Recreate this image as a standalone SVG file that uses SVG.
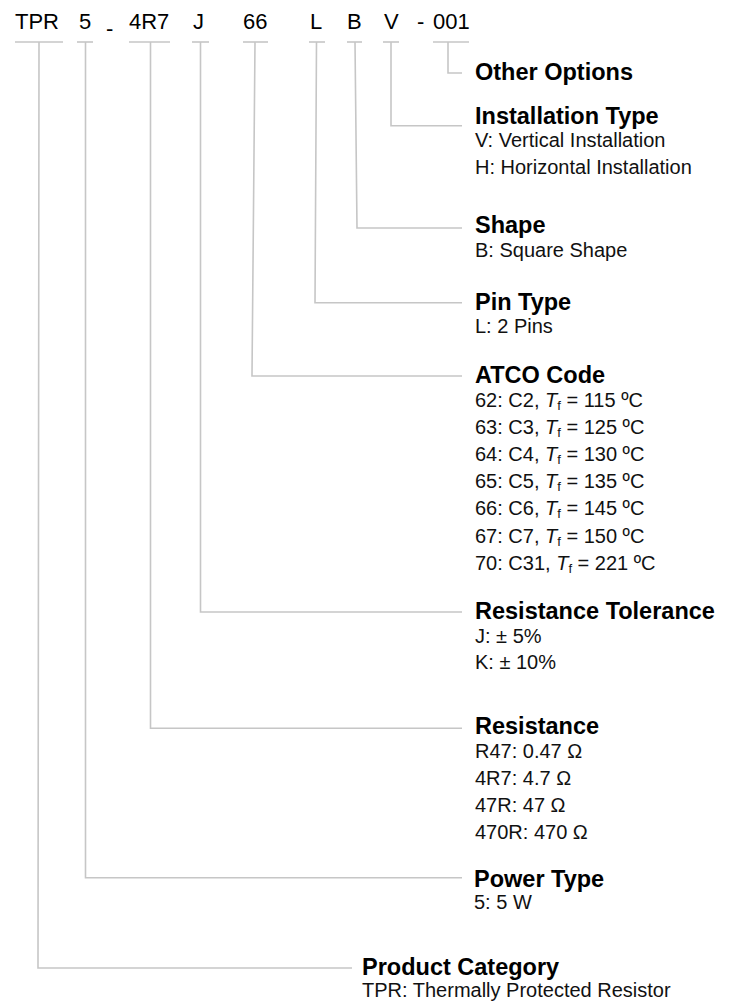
<svg xmlns="http://www.w3.org/2000/svg" width="739" height="1002" viewBox="0 0 739 1002">
<style>
.code{font-family:"Liberation Sans",Arial,sans-serif;font-size:22px;fill:#000}
.title{font-family:"Liberation Sans",Arial,sans-serif;font-size:23.5px;font-weight:bold;fill:#000}
.sub{font-family:"Liberation Sans",Arial,sans-serif;font-size:20px;fill:#111}
.it{font-style:italic}
.sb{font-size:13px}
.conn{fill:none;stroke:#c6c6c6;stroke-width:1.6}
</style>
<rect width="739" height="1002" fill="#fff"/>
<g id="connectors">
<polyline class="conn" points="15,42 63,42"/><polyline class="conn" points="39,42 38,968 352,968"/>
<polyline class="conn" points="77,42 93,42"/><polyline class="conn" points="85.5,42 85.5,877.7 462,877.7"/>
<polyline class="conn" points="129,42 170,42"/><polyline class="conn" points="150.5,42 150.5,728.3 462,728.3"/>
<polyline class="conn" points="192,42 209,42"/><polyline class="conn" points="200.5,42 200.5,612 462,612"/>
<polyline class="conn" points="243,42 268,42"/><polyline class="conn" points="255,42 252,376 462,376"/>
<polyline class="conn" points="309,42 325,42"/><polyline class="conn" points="316.5,42 315,302.7 462,302.7"/>
<polyline class="conn" points="347,42 362,42"/><polyline class="conn" points="355,42 357,228 462,228"/>
<polyline class="conn" points="383,42 399,42"/><polyline class="conn" points="391,42 391,125.7 462,125.7"/>
<polyline class="conn" points="433,42 469,42"/><polyline class="conn" points="448,42 448,73 462,73"/>
</g>
<g id="code">
<text class="code" x="15" y="28.5">TPR</text>
<text class="code" x="79" y="28.5">5</text>
<text class="code" x="106" y="36">-</text>
<text class="code" x="129" y="28.5">4R7</text>
<text class="code" x="193" y="28.5">J</text>
<text class="code" x="243" y="28.5">66</text>
<text class="code" x="310" y="28.5">L</text>
<text class="code" x="347" y="28.5">B</text>
<text class="code" x="384" y="28.5">V</text>
<text class="code" x="417" y="28.5">-</text>
<text class="code" x="433" y="28.5">001</text>
</g>
<g id="other-options">
<text class="title" x="475" y="80">Other Options</text>
</g>
<g id="installation-type">
<text class="title" x="475" y="123.5">Installation Type</text>
<text class="sub" x="475" y="146.7">V: Vertical Installation</text>
<text class="sub" x="475" y="173.5">H: Horizontal Installation</text>
</g>
<g id="shape">
<text class="title" x="475" y="233">Shape</text>
<text class="sub" x="475" y="256.5">B: Square Shape</text>
</g>
<g id="pin-type">
<text class="title" x="475" y="310">Pin Type</text>
<text class="sub" x="475" y="333">L: 2 Pins</text>
</g>
<g id="atco-code">
<text class="title" x="475" y="383.3">ATCO Code</text>
<text class="sub" x="475" y="406.7">62: C2, <tspan class="it">T</tspan><tspan class="sb" dy="3">f</tspan><tspan dy="-3"> = 115 ºC</tspan></text>
<text class="sub" x="475" y="433.8">63: C3, <tspan class="it">T</tspan><tspan class="sb" dy="3">f</tspan><tspan dy="-3"> = 125 ºC</tspan></text>
<text class="sub" x="475" y="460.9">64: C4, <tspan class="it">T</tspan><tspan class="sb" dy="3">f</tspan><tspan dy="-3"> = 130 ºC</tspan></text>
<text class="sub" x="475" y="488">65: C5, <tspan class="it">T</tspan><tspan class="sb" dy="3">f</tspan><tspan dy="-3"> = 135 ºC</tspan></text>
<text class="sub" x="475" y="515.1">66: C6, <tspan class="it">T</tspan><tspan class="sb" dy="3">f</tspan><tspan dy="-3"> = 145 ºC</tspan></text>
<text class="sub" x="475" y="542.5">67: C7, <tspan class="it">T</tspan><tspan class="sb" dy="3">f</tspan><tspan dy="-3"> = 150 ºC</tspan></text>
<text class="sub" x="475" y="570">70: C31, <tspan class="it">T</tspan><tspan class="sb" dy="3">f</tspan><tspan dy="-3"> = 221 ºC</tspan></text>
</g>
<g id="resistance-tolerance">
<text class="title" x="475" y="619.3">Resistance Tolerance</text>
<text class="sub" x="475" y="642.7">J: ± 5%</text>
<text class="sub" x="475" y="669.3">K: ± 10%</text>
</g>
<g id="resistance">
<text class="title" x="475" y="734.3">Resistance</text>
<text class="sub" x="475" y="757.7">R47: 0.47 Ω</text>
<text class="sub" x="475" y="785">4R7: 4.7 Ω</text>
<text class="sub" x="475" y="812.3">47R: 47 Ω</text>
<text class="sub" x="475" y="839.3">470R: 470 Ω</text>
</g>
<g id="power-type">
<text class="title" x="474" y="886.7">Power Type</text>
<text class="sub" x="474" y="909">5: 5 W</text>
</g>
<g id="product-category">
<text class="title" x="362" y="975">Product Category</text>
<text class="sub" x="362" y="996.7">TPR: Thermally Protected Resistor</text>
</g>
</svg>
